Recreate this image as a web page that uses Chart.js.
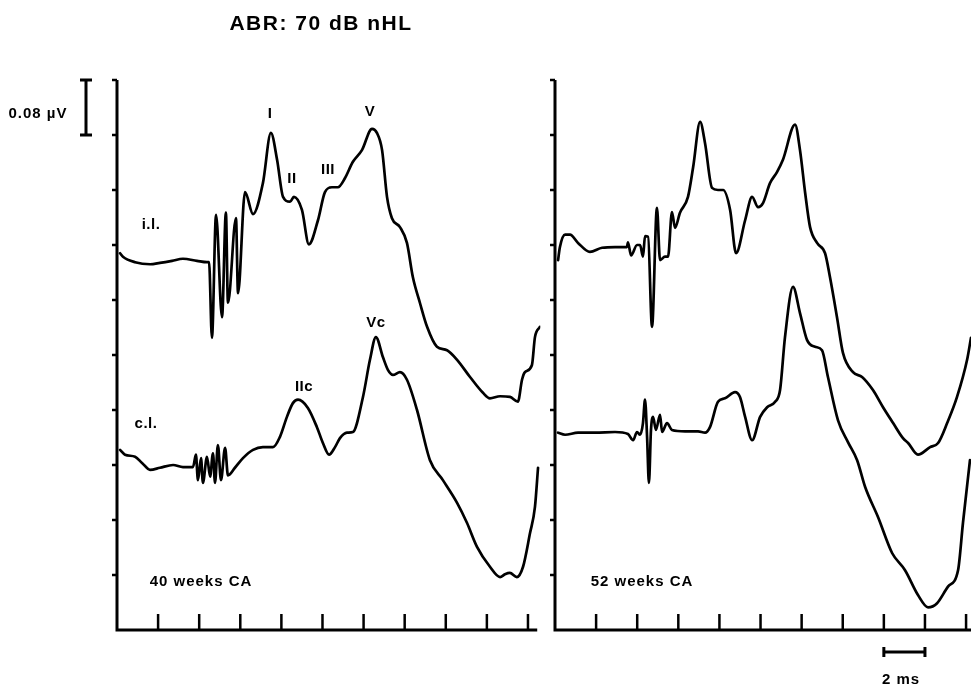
<!DOCTYPE html>
<html><head><meta charset="utf-8">
<script src="https://cdn.jsdelivr.net/npm/chart.js@4"></script>
<style>
html,body{margin:0;padding:0;background:#fff;}
#wrap{position:relative;width:971px;height:685px;overflow:hidden;background:#fff;}
canvas{position:absolute;top:0;}
.t{position:absolute;transform:translate(-50%,-50%);font-family:"Liberation Sans",Arial,sans-serif;font-weight:bold;color:#000;white-space:nowrap;font-size:15px;letter-spacing:0.5px;line-height:1;}
</style></head>
<body>
<div id="wrap">
<canvas id="c40" width="550" height="685" style="left:0;width:550px;height:685px"></canvas>
<canvas id="c52" width="426" height="685" style="left:545px;width:426px;height:685px"></canvas>
<div class="t" style="left:321px;top:22px;font-size:21px;letter-spacing:1.5px">ABR: 70 dB nHL</div>
<div class="t" style="left:38px;top:112px;letter-spacing:1px">0.08 µV</div>
<div class="t" style="left:151px;top:223px">i.l.</div>
<div class="t" style="left:146px;top:422px">c.l.</div>
<div class="t" style="left:270px;top:112px">I</div>
<div class="t" style="left:292px;top:177px">II</div>
<div class="t" style="left:328px;top:168px">III</div>
<div class="t" style="left:370px;top:110px">V</div>
<div class="t" style="left:304px;top:385px">IIc</div>
<div class="t" style="left:376px;top:321px">Vc</div>
<div class="t" style="left:201px;top:580px;letter-spacing:1px">40 weeks CA</div>
<div class="t" style="left:642px;top:580px;letter-spacing:1px">52 weeks CA</div>
<div class="t" style="left:901px;top:678px;letter-spacing:1px">2 ms</div>
</div>
<script>
// ---- data: time (ms) and amplitude (µV, arbitrary offset) ----
const ms40il = [0.15,0.29,0.88,1.61,2.09,2.68,3.21,3.89,4.38,4.48,4.62,4.82,5.11,5.30,5.40,5.79,5.89,6.23,6.62,7.10,7.49,7.79,8.08,8.42,8.61,9.00,9.34,9.78,10.12,10.46,10.75,11.09,11.48,11.92,12.41,12.65,12.90,13.14,13.38,13.77,14.11,14.40,14.74,15.09,15.57,16.06,16.55,17.18,17.81,18.15,18.64,19.12,19.51,19.71,19.85,20.19,20.34,20.58];
const uv40il = [0.548,0.543,0.535,0.532,0.534,0.537,0.540,0.537,0.535,0.535,0.425,0.604,0.455,0.607,0.476,0.599,0.490,0.637,0.605,0.650,0.723,0.684,0.630,0.623,0.630,0.611,0.561,0.596,0.637,0.644,0.644,0.657,0.681,0.698,0.729,0.723,0.698,0.630,0.599,0.586,0.563,0.513,0.476,0.441,0.412,0.407,0.393,0.368,0.345,0.337,0.340,0.339,0.332,0.364,0.375,0.385,0.426,0.441];

const ms40cl = [0.15,0.39,0.88,1.22,1.61,2.09,2.73,3.21,3.70,3.84,3.94,4.09,4.18,4.38,4.53,4.67,4.77,4.91,5.06,5.26,5.40,5.74,6.13,6.62,7.10,7.59,7.93,8.27,8.56,8.81,9.29,9.73,10.02,10.32,10.61,10.85,11.19,11.48,11.97,12.31,12.60,12.94,13.19,13.43,13.77,14.11,14.60,15.23,15.86,16.55,17.03,17.52,18.15,18.64,18.88,19.12,19.46,19.76,20.10,20.34,20.49];
const uv40cl = [0.262,0.255,0.252,0.243,0.233,0.236,0.240,0.237,0.237,0.255,0.218,0.250,0.214,0.252,0.223,0.257,0.214,0.269,0.218,0.265,0.225,0.236,0.250,0.262,0.266,0.266,0.281,0.310,0.330,0.335,0.323,0.295,0.272,0.255,0.266,0.279,0.287,0.288,0.339,0.393,0.426,0.397,0.378,0.371,0.375,0.364,0.320,0.247,0.218,0.185,0.156,0.121,0.092,0.077,0.081,0.083,0.077,0.092,0.141,0.179,0.236];

const ms52il = [0.15,0.24,0.49,0.73,1.12,1.70,2.29,2.92,3.50,3.55,3.70,3.99,4.14,4.28,4.38,4.53,4.72,4.96,5.11,5.35,5.50,5.69,5.84,6.08,6.47,6.72,7.06,7.30,7.64,7.93,8.18,8.52,8.81,9.25,9.59,9.88,10.12,10.46,10.80,11.09,11.68,11.92,12.17,12.41,12.75,13.14,13.38,13.72,14.01,14.50,14.94,15.47,15.96,16.45,16.93,17.18,17.66,18.25,18.64,19.08,19.56,20.05,20.24];
const uv52il = [0.538,0.557,0.575,0.575,0.563,0.550,0.556,0.557,0.557,0.564,0.545,0.560,0.560,0.543,0.573,0.572,0.441,0.614,0.538,0.543,0.543,0.608,0.585,0.607,0.630,0.673,0.739,0.708,0.643,0.640,0.640,0.611,0.548,0.596,0.630,0.615,0.621,0.650,0.666,0.684,0.735,0.698,0.636,0.586,0.563,0.548,0.513,0.455,0.403,0.375,0.368,0.349,0.324,0.301,0.279,0.272,0.255,0.266,0.272,0.301,0.339,0.393,0.425];

const ms52cl = [0.15,0.49,1.12,1.95,2.92,3.55,3.80,3.99,4.14,4.28,4.38,4.48,4.57,4.67,4.77,4.91,5.11,5.21,5.45,5.69,6.33,6.96,7.30,7.54,7.93,8.27,8.76,9.00,9.25,9.59,9.98,10.32,10.71,10.95,11.19,11.58,11.92,12.26,12.65,12.99,13.28,13.77,14.26,14.70,15.09,15.72,16.40,17.03,17.66,18.15,18.59,19.12,19.61,19.85,20.19];
const uv52cl = [0.287,0.284,0.287,0.287,0.288,0.285,0.276,0.288,0.284,0.301,0.335,0.281,0.214,0.291,0.310,0.291,0.313,0.288,0.301,0.291,0.289,0.289,0.287,0.295,0.332,0.337,0.346,0.339,0.310,0.276,0.310,0.324,0.332,0.349,0.426,0.499,0.461,0.422,0.412,0.407,0.368,0.305,0.273,0.247,0.208,0.164,0.112,0.087,0.051,0.033,0.039,0.063,0.087,0.156,0.247];

// tick values
const xTickValues = [2,4,6,8,10,12,14,16,18,20];
const yTickValues = [0.08,0.16,0.24,0.32,0.40,0.48,0.56,0.64,0.72,0.80];
const ampBar = [0.72, 0.80];   // 0.08 µV calibration
const timeBar = [16, 18];      // 2 ms calibration

function zip(xs, ys){ return xs.map((x,i)=>({x:x, y:ys[i]})); }

function trace(xs, ys){
  return {data: zip(xs, ys), borderColor:'#000', borderWidth:2.7, pointRadius:0,
    cubicInterpolationMode:'monotone', fill:false, borderJoinStyle:'round', borderCapStyle:'round'};
}

function axesPlugin(axisEnd, opts){
  return {
    id:'axesDraw',
    afterDraw(chart){
      const ctx = chart.ctx, xs = chart.scales.x, ys = chart.scales.y;
      const x0 = xs.getPixelForValue(0), y0 = ys.getPixelForValue(0);
      const yTop = ys.getPixelForValue(0.8);
      ctx.save();
      ctx.strokeStyle = '#000';
      ctx.lineCap = 'butt';
      // axes
      ctx.lineWidth = 3;
      ctx.beginPath();
      ctx.moveTo(x0, yTop); ctx.lineTo(x0, y0 + 1.5);
      ctx.moveTo(x0 - 1.5, y0); ctx.lineTo(xs.getPixelForValue(axisEnd), y0);
      ctx.stroke();
      // y ticks (outside)
      ctx.lineWidth = 2.5;
      ctx.beginPath();
      yTickValues.forEach(v => { const y = ys.getPixelForValue(v); ctx.moveTo(x0 - 5, y); ctx.lineTo(x0, y); });
      // x ticks (inside)
      xTickValues.forEach(v => { if (v <= axisEnd) { const x = xs.getPixelForValue(v); ctx.moveTo(x, y0 - 16); ctx.lineTo(x, y0); } });
      ctx.stroke();
      // calibration bars
      ctx.lineWidth = 3;
      ctx.beginPath();
      if (opts.ampBar) {
        const bx = x0 - 31, ya = ys.getPixelForValue(ampBar[0]), yb = ys.getPixelForValue(ampBar[1]);
        ctx.moveTo(bx, yb); ctx.lineTo(bx, ya);
        ctx.moveTo(bx - 6, yb); ctx.lineTo(bx + 6, yb);
        ctx.moveTo(bx - 6, ya); ctx.lineTo(bx + 6, ya);
      }
      if (opts.timeBar) {
        const by = y0 + 22, xa = xs.getPixelForValue(timeBar[0]), xb = xs.getPixelForValue(timeBar[1]);
        ctx.moveTo(xa, by); ctx.lineTo(xb, by);
        ctx.moveTo(xa, by - 5); ctx.lineTo(xa, by + 5);
        ctx.moveTo(xb, by - 5); ctx.lineTo(xb, by + 5);
      }
      ctx.stroke();
      ctx.restore();
    }
  };
}

function makeChart(id, sets, xmax, pad, axisEnd, opts){
  return new Chart(document.getElementById(id), {
    type:'line',
    data:{datasets: sets},
    options:{
      responsive:false, animation:false, devicePixelRatio:1,
      layout:{padding: pad},
      plugins:{legend:{display:false}, tooltip:{enabled:false}, title:{display:false}},
      scales:{
        x:{type:'linear', min:0, max:xmax, display:false},
        y:{type:'linear', min:0, max:0.8, display:false}
      }
    },
    plugins:[axesPlugin(axisEnd, opts)]
  });
}

makeChart('c40', [trace(ms40il, uv40il), trace(ms40cl, uv40cl)], 20.6,
  {left:117, right:9.7, top:80, bottom:55}, 20.45, {ampBar:true});
makeChart('c52', [trace(ms52il, uv52il), trace(ms52cl, uv52cl)], 20.24,
  {left:10, right:0, top:80, bottom:55}, 20.24, {timeBar:true});
</script>
</body></html>
